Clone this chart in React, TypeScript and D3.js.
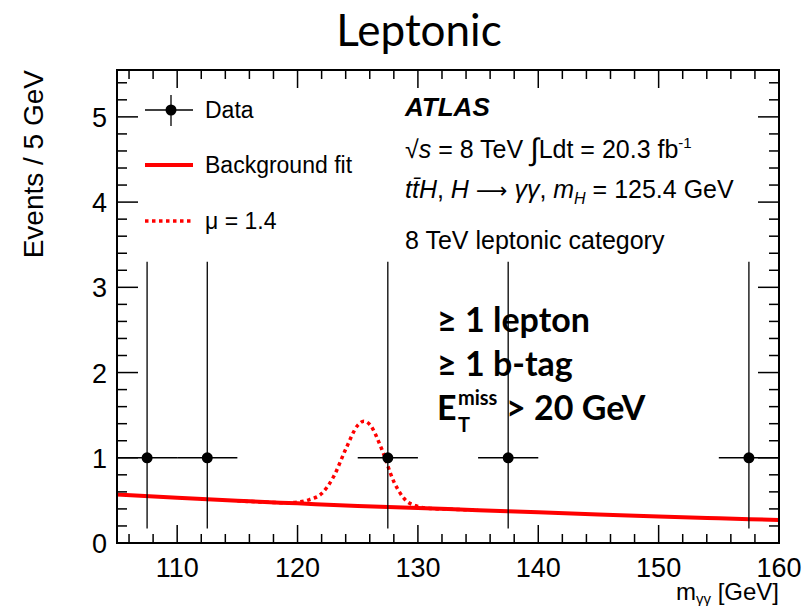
import React from "react";
import * as d3 from "d3";

// Diphoton invariant mass bins (GeV) and observed event counts
const binCenters = [107.5, 112.5, 127.5, 137.5, 157.5];
const counts = [1, 1, 1, 1, 1];
const errLow = [0.83, 0.83, 0.83, 0.83, 0.83];
const errHigh = [2.3, 2.3, 2.3, 2.3, 2.3];
const binHalfWidth = 2.5;

// Background fit (continuum) sampled along m_yy
const bkgMass = [105, 110, 115, 120, 125, 130, 135, 140, 145, 150, 155, 160];
const bkgEvents = [0.57, 0.53, 0.495, 0.465, 0.435, 0.41, 0.385, 0.36, 0.335, 0.31, 0.29, 0.27];

// Signal + background for mu = 1.4
const sigMass = [115, 117, 118, 119, 120, 121, 122, 123, 124, 125, 125.5, 126, 127, 128, 129, 130, 131, 133, 135];
const sigEvents = [0.495, 0.48, 0.475, 0.472, 0.48, 0.51, 0.58, 0.78, 1.1, 1.38, 1.43, 1.39, 1.1, 0.72, 0.5, 0.43, 0.405, 0.395, 0.385];

const xTicks = [110, 120, 130, 140, 150, 160];
const yTicks = [0, 1, 2, 3, 4, 5];

const W = 804;
const H = 606;
const L = 117, R = 779, T = 70, B = 543;
const helv = "'Liberation Sans', Arial, Helvetica, sans-serif";
const cal = "Lato, 'Open Sans', sans-serif";

export default function App() {
  const x = d3.scaleLinear().domain([105, 160]).range([L, R]);
  const y = d3.scaleLinear().domain([0, 5.55]).range([B, T]);

  const bkgLine = d3.line<number>()
    .x((_, i) => x(bkgMass[i]))
    .y((d) => y(d))
    .curve(d3.curveMonotoneX)(bkgEvents) as string;
  const sigLine = d3.line<number>()
    .x((_, i) => x(sigMass[i]))
    .y((d) => y(d))
    .curve(d3.curveMonotoneX)(sigEvents) as string;

  const xMinor = d3.range(106, 160.01, 2).filter((v) => v % 10 !== 0);
  const yMinor = d3.range(0, 5.55, 0.2).filter((v) => Math.abs(v - Math.round(v)) > 1e-6);

  const xMaj = 18, xMin = 9, yMaj = 21, yMin = 10;

  return (
    <svg width={W} height={H} style={{ position: "fixed", left: 0, top: 0, background: "#fff" }}>
      <rect x={0} y={0} width={W} height={H} fill="#fff" />
      <text x={419} y={46} textAnchor="middle" fontFamily={cal} fontSize={44} fill="#000">Leptonic</text>

      {/* background fit */}
      <path d={bkgLine} fill="none" stroke="#ff0000" strokeWidth={4} />
      {/* signal + background */}
      <path d={sigLine} fill="none" stroke="#ff0000" strokeWidth={3.5} strokeDasharray="3.5,3.5" />

      {/* data with error bars */}
      {binCenters.map((c, i) => (
        <g key={i} stroke="#000" strokeWidth={1.3}>
          <line x1={x(c - binHalfWidth)} x2={x(c + binHalfWidth)} y1={y(counts[i])} y2={y(counts[i])} />
          <line x1={x(c)} x2={x(c)} y1={y(counts[i] - errLow[i])} y2={y(counts[i] + errHigh[i])} />
          <circle cx={x(c)} cy={y(counts[i])} r={5.5} fill="#000" stroke="none" />
        </g>
      ))}

      {/* frame and ticks */}
      <g stroke="#000" strokeWidth={1.5}>
        {xTicks.map((v) => (
          <g key={"xt" + v}>
            <line x1={x(v)} x2={x(v)} y1={B} y2={B - xMaj} />
            <line x1={x(v)} x2={x(v)} y1={T} y2={T + xMaj} />
          </g>
        ))}
        {xMinor.map((v) => (
          <g key={"xm" + v}>
            <line x1={x(v)} x2={x(v)} y1={B} y2={B - xMin} />
            <line x1={x(v)} x2={x(v)} y1={T} y2={T + xMin} />
          </g>
        ))}
        {yTicks.map((v) => (
          <g key={"yt" + v}>
            <line x1={L} x2={L + yMaj} y1={y(v)} y2={y(v)} />
            <line x1={R} x2={R - yMaj} y1={y(v)} y2={y(v)} />
          </g>
        ))}
        {yMinor.map((v) => (
          <g key={"ym" + v}>
            <line x1={L} x2={L + yMin} y1={y(v)} y2={y(v)} />
            <line x1={R} x2={R - yMin} y1={y(v)} y2={y(v)} />
          </g>
        ))}
        <rect x={L} y={T} width={R - L} height={B - T} fill="none" strokeWidth={2} />
      </g>

      {/* tick labels */}
      <g fontFamily={helv} fontSize={27} fill="#000">
        {xTicks.map((v) => (
          <text key={"xl" + v} x={x(v)} y={B + 34} textAnchor="middle">{v}</text>
        ))}
        {yTicks.map((v) => (
          <text key={"yl" + v} x={L - 10} y={y(v) + 10} textAnchor="end">{v}</text>
        ))}
      </g>

      {/* axis titles */}
      <text transform={`translate(43,${T}) rotate(-90)`} textAnchor="end" fontFamily={helv} fontSize={28} fill="#000">Events / 5 GeV</text>
      <text x={R} y={600} textAnchor="end" fontFamily={helv} fontSize={24} fill="#000">
        m<tspan fontSize={15} dy={4}>γγ</tspan><tspan dy={-4}> [GeV]</tspan>
      </text>

      {/* legend */}
      <g>
        <line x1={145} x2={193} y1={110} y2={110} stroke="#000" strokeWidth={1.3} />
        <line x1={171} x2={171} y1={95} y2={126} stroke="#000" strokeWidth={1.3} />
        <circle cx={171} cy={110} r={5.5} fill="#000" />
        <text x={205} y={118} fontFamily={helv} fontSize={23}>Data</text>
        <line x1={145} x2={193} y1={165} y2={165} stroke="#ff0000" strokeWidth={4} />
        <text x={205} y={173} fontFamily={helv} fontSize={23}>Background fit</text>
        <line x1={145} x2={193} y1={221} y2={221} stroke="#ff0000" strokeWidth={3.5} strokeDasharray="3.5,3.5" />
        <text x={205} y={229} fontFamily={helv} fontSize={23}>μ = 1.4</text>
      </g>

      {/* ATLAS labels */}
      <g fontFamily={helv} fontSize={25} fill="#000">
        <text x={405} y={116} fontWeight="bold" fontStyle="italic" fontSize={26}>ATLAS</text>
        <text x={405} y={158}>
          √<tspan fontStyle="italic">s</tspan> = 8 TeV <tspan fontSize={31} dy={2}>∫</tspan><tspan dy={-2}>Ldt = 20.3 fb</tspan><tspan fontSize={15} dy={-10}>-1</tspan>
        </text>
        <text x={405} y={198}>
          <tspan fontStyle="italic">tt̄H</tspan>, <tspan fontStyle="italic">H</tspan> <tspan fontFamily="'DejaVu Sans', sans-serif" fontSize={22}>⟶</tspan> <tspan fontStyle="italic">γγ</tspan>, <tspan fontStyle="italic">m</tspan><tspan fontSize={16} dy={6} fontStyle="italic">H</tspan><tspan dy={-6}> = 125.4 GeV</tspan>
        </text>
        <text x={405} y={249}>8 TeV leptonic category</text>
      </g>

      {/* selection labels */}
      <g fontFamily={cal} fontWeight="bold" fontSize={34} fill="#000">
        <text x={437} y={332}>≥ 1 lepton</text>
        <text x={437} y={376}>≥ 1 b-tag</text>
        <text x={437} y={420}>E</text>
        <text x={458} y={432} fontSize={20}>T</text>
        <text x={458} y={405} fontSize={20}>miss</text>
        <text x={506} y={420}>&gt; 20 GeV</text>
      </g>
    </svg>
  );
}
